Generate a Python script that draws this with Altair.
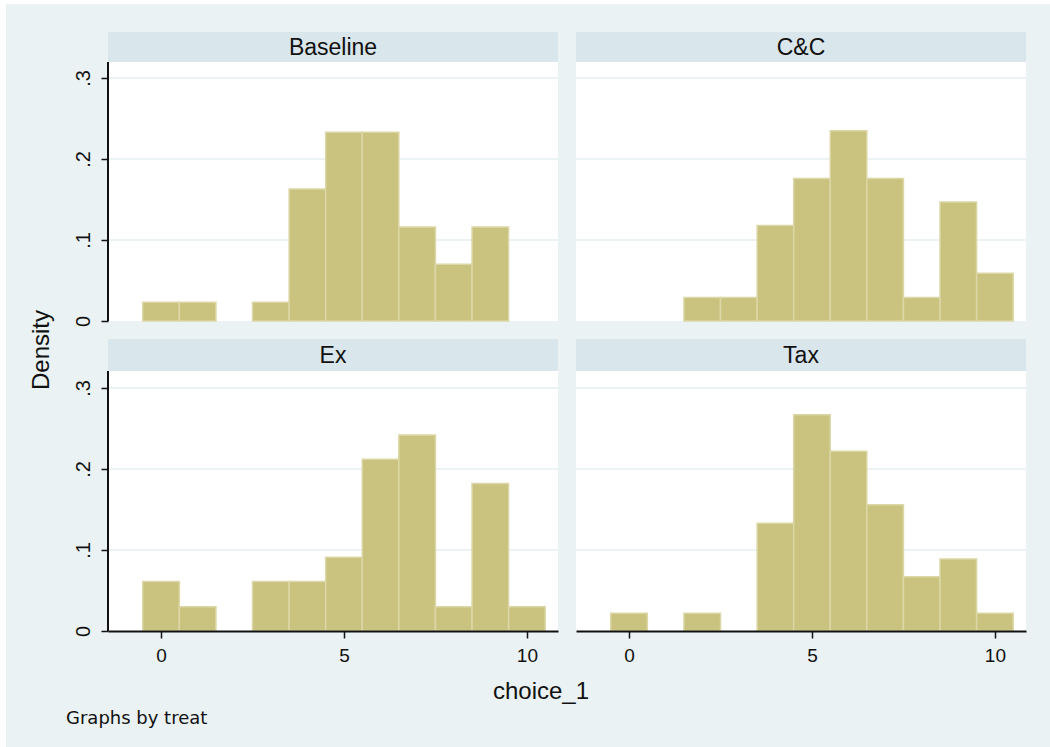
import altair as alt
import pandas as pd

# Histogram densities of choice_1 (bins of width 1 centred on the integers), one panel per treatment
treatments = ["Baseline", "C&C", "Ex", "Tax"]

baseline_choice = [0, 1, 3, 4, 5, 6, 7, 8, 9]
baseline_density = [0.023, 0.023, 0.023, 0.163, 0.233, 0.233, 0.116, 0.070, 0.116]

cc_choice = [2, 3, 4, 5, 6, 7, 8, 9, 10]
cc_density = [0.029, 0.029, 0.118, 0.176, 0.235, 0.176, 0.029, 0.147, 0.059]

ex_choice = [0, 1, 3, 4, 5, 6, 7, 8, 9, 10]
ex_density = [0.061, 0.030, 0.061, 0.061, 0.091, 0.212, 0.242, 0.030, 0.182, 0.030]

tax_choice = [0, 2, 4, 5, 6, 7, 8, 9, 10]
tax_density = [0.022, 0.022, 0.133, 0.267, 0.222, 0.156, 0.067, 0.089, 0.022]

y_ticks = [0, 0.1, 0.2, 0.3]
x_ticks = [0, 5, 10]
x_domain = [-1.45, 10.85]

# styling
FONT = "Liberation Sans"
REGION = "#EAF2F3"
STRIP = "#D9E6EB"
GRID = "#E6EFF1"
BAR = "#CAC27F"
BAR_EDGE = "#DCD7A6"
INK = "#111111"

PANEL_W = 450
PX_PER_UNIT = 810  # vertical pixels per unit of density


def one_row(**kw):
    return pd.DataFrame({k: [v] for k, v in kw.items()})


def panel(label, choices, densities, height, strip, left, bottom, under=(), over=()):
    xs = alt.Scale(domain=x_domain, nice=False, zero=False)
    ys = alt.Scale(domain=[0, height / PX_PER_UNIT], nice=False, zero=True)

    yaxis = (
        alt.Axis(
            values=y_ticks, title=None, grid=False, domain=False,
            ticks=True, tickSize=7, tickWidth=1.5, tickColor=INK,
            labelExpr="datum.value == 0 ? '0' : '.' + round(datum.value * 10)",
            labelAngle=270, labelFontSize=20, labelColor=INK, labelPadding=8,
            zindex=1,
        )
        if left else None
    )
    xaxis = (
        alt.Axis(
            values=x_ticks, title=None, grid=False, format="d",
            domain=True, domainColor=INK, domainWidth=2,
            ticks=True, tickSize=7, tickWidth=1.5, tickColor=INK,
            labelFontSize=19, labelColor=INK, labelPadding=8, labelAngle=0,
            zindex=1,
        )
        if bottom else None
    )

    plot_bg = alt.Chart(one_row(k=0)).mark_rect(fill="white").encode(
        x=alt.value(0), x2=alt.value(PANEL_W), y=alt.value(strip), y2=alt.value(height)
    )
    strip_bg = alt.Chart(one_row(k=0)).mark_rect(fill=STRIP).encode(
        x=alt.value(0), x2=alt.value(PANEL_W), y=alt.value(0), y2=alt.value(strip)
    )
    strip_text = alt.Chart(one_row(label=label)).mark_text(
        fontSize=23, color=INK, align="center", baseline="middle", font=FONT
    ).encode(x=alt.value(PANEL_W / 2), y=alt.value(strip / 2 + 1), text="label:N")

    grid = alt.Chart(pd.DataFrame({"v": y_ticks[1:]})).mark_rule(
        color=GRID, strokeWidth=1.6
    ).encode(
        y=alt.Y("v:Q", scale=ys, axis=yaxis),
        x=alt.value(0), x2=alt.value(PANEL_W),
    )

    bars = alt.Chart(pd.DataFrame({"choice": choices, "density": densities})).transform_calculate(
        x0="datum.choice - 0.5", x1="datum.choice + 0.5"
    ).mark_rect(fill=BAR, stroke=BAR_EDGE, strokeWidth=1.5).encode(
        x=alt.X("x0:Q", scale=xs, axis=xaxis),
        x2="x1:Q",
        y=alt.Y("density:Q", scale=ys, axis=yaxis),
        y2=alt.datum(0),
    )

    layers = list(under) + [plot_bg, strip_bg, strip_text, grid, bars]
    if left:
        layers.append(
            alt.Chart(one_row(k=0)).mark_rule(color=INK, strokeWidth=2).encode(
                x=alt.value(0), y=alt.value(strip), y2=alt.value(height)
            )
        )
    layers += list(over)
    return alt.layer(*layers).properties(width=PANEL_W, height=height)


# whole graph region, plus the shared titles and note (placed relative to the first panel)
region = alt.Chart(one_row(k=0)).mark_rect(fill=REGION).encode(
    x=alt.value(-102), x2=alt.value(942), y=alt.value(-28), y2=alt.value(715)
)
y_title = alt.Chart(one_row(t="Density")).mark_text(
    fontSize=24, color=INK, angle=270, align="center", baseline="middle", font=FONT
).encode(x=alt.value(-66), y=alt.value(318), text="t:N")
x_title = alt.Chart(one_row(t="choice_1")).mark_text(
    fontSize=24, color=INK, align="center", baseline="alphabetic", font=FONT
).encode(x=alt.value(433), y=alt.value(667), text="t:N")
note = alt.Chart(one_row(t="Graphs by treat")).mark_text(
    fontSize=18, color=INK, align="left", baseline="alphabetic", font="DejaVu Sans"
).encode(x=alt.value(-42), y=alt.value(692), text="t:N")

p1 = panel(treatments[0], baseline_choice, baseline_density, 289, 30, True, False,
           under=[region], over=[y_title, x_title, note])
p2 = panel(treatments[1], cc_choice, cc_density, 289, 30, False, False)
p3 = panel(treatments[2], ex_choice, ex_density, 292, 32, True, True)
p4 = panel(treatments[3], tax_choice, tax_density, 292, 32, False, True)

chart = (
    alt.concat(p1, p2, p3, p4, columns=2, spacing={"row": 18, "column": 18}, bounds="flush")
    .resolve_scale(x="independent", y="independent")
    .properties(padding={"left": 6, "top": 4, "right": 0, "bottom": 0}, background="white")
    .configure(font=FONT)
    .configure_view(strokeWidth=0)
)

chart.save("out.html", embed_options={"renderer": "svg", "actions": False})
